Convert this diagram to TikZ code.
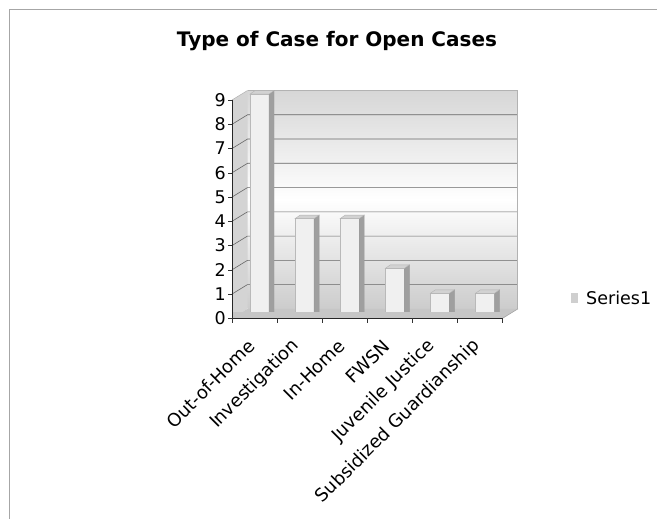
\documentclass[tikz,border=0pt]{standalone}
\usepackage{fontspec}
\setmainfont{DejaVu Sans}
\begin{document}
\begin{tikzpicture}[x=1pt,y=-1pt,
  axisline/.style={draw=black!85,line width=0.8pt},
  gridln/.style={draw=black!60,line width=0.6pt},
  barface/.style={fill=gray!12,draw=gray!55,line width=0.4pt},
  barside/.style={fill=gray!75,draw=gray!80,line width=0.4pt},
  bartop/.style={fill=gray!35,draw=gray!60,line width=0.4pt},
  numlbl/.style={font=\fontsize{17.5}{17.5}\selectfont,anchor=east,inner sep=0pt},
  catlbl/.style={font=\fontsize{18}{18}\selectfont,anchor=east,rotate=45,inner sep=1pt}]
\useasboundingbox (0,0) rectangle (657,519);
\fill[white] (0,0) rectangle (657,519);
% frame
\draw[gray!70,line width=1pt] (9,519) -- (9,10) -- (657,10);
% title
\node[font=\bfseries\fontsize{20}{20}\selectfont] (title) at (337,41) {Type of Case for Open Cases};
% back wall
\shade[top color=gray!32,bottom color=gray!40,middle color=white] (247.5,90.5) rectangle (517.5,308.8);
% left wall
\fill[gray!34] (232,318.3) -- (232,100) -- (247.5,90.5) -- (247.5,308.8) -- cycle;
% floor
\fill[gray!45] (232,318.3) -- (502.5,318.3) -- (518,308.8) -- (247.5,308.8) -- cycle;
% gridlines
\foreach \k in {1,...,8} {
  \draw[gridln] (232,{318.3-24.25*\k}) -- (247.5,{308.8-24.25*\k}) -- (517.5,{308.8-24.25*\k});
}
\draw[gray!60,line width=0.5pt] (247.5,90.5) -- (517.5,90.5) -- (517.5,308.8);
\draw[gray!60,line width=0.5pt] (232,100) -- (247.5,90.5);
% bars
\foreach \i/\v in {0/9,1/4,2/4,3/2,4/1,5/1} {
  \pgfmathsetmacro\xl{250+45.1*\i}
  \pgfmathsetmacro\yt{318.2-24.9*\v}
  \filldraw[barface] (\xl,318) rectangle ({\xl+19},\yt);
  \filldraw[barside] ({\xl+19},318) -- ({\xl+19},\yt) -- ({\xl+24},{\yt-3.5}) -- ({\xl+24},314.5) -- cycle;
  \filldraw[bartop] (\xl,\yt) -- ({\xl+5},{\yt-3.5}) -- ({\xl+24},{\yt-3.5}) -- ({\xl+19},\yt) -- cycle;
}
% floor front band
\fill[gray!45] (232,312) -- (512.3,312) -- (502.5,318.3) -- (232,318.3) -- cycle;
\draw[gray!70,line width=0.6pt] (502.5,318.3) -- (518,308.8);
% axes
\draw[axisline] (232,318.3) -- (232,100);
\draw[axisline] (232,318.3) -- (502.5,318.3);
\foreach \k in {0,...,9} {
  \draw[black!80,line width=0.5pt] (228,{318.3-24.25*\k}) -- (232,{318.3-24.25*\k});
  \node[numlbl] (n\k) at (226,{318.3-24.25*\k}) {\k};
}
\foreach \i in {0,...,6} {
  \draw[black!80,line width=0.5pt] ({232+45.08*\i},318.3) -- ({232+45.08*\i},323);
}
% category labels
\foreach \i/\t in {0/Out-of-Home,1/Investigation,2/In-Home,3/FWSN,4/Juvenile Justice,5/Subsidized Guardianship} {
  \node[catlbl] (c\i) at ({252+45.08*\i},342) {\t};
}
% legend
\fill[gray!38] (570.7,292.7) rectangle (578.3,302.7) node[coordinate] (legsq) {};
\node[font=\fontsize{17.5}{17.5}\selectfont,anchor=west,inner sep=0pt] (leg) at (586,297.5) {Series1};
\end{tikzpicture}
\end{document}
